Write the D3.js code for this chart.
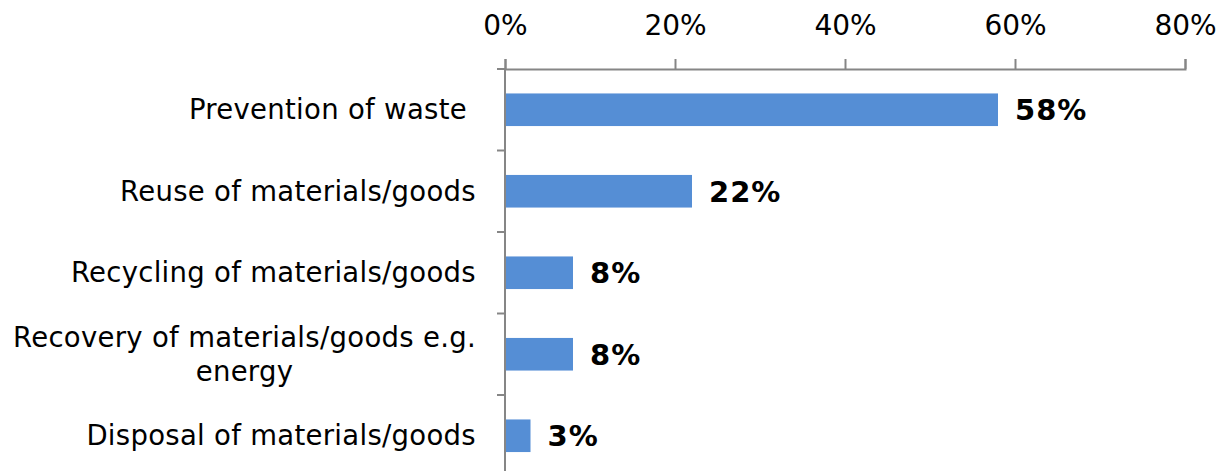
<!DOCTYPE html>
<html><head><meta charset="utf-8">
<script src="https://cdn.jsdelivr.net/npm/d3@7"></script>
<style>html,body{margin:0;padding:0;background:#fff;}svg{display:block;}</style>
</head><body>
<svg id="c" width="1226" height="471"></svg>
<script>
const categories = [
  ["Prevention of waste "],
  ["Reuse of materials/goods"],
  ["Recycling of materials/goods"],
  ["Recovery of materials/goods e.g.", "energy"],
  ["Disposal of materials/goods"]
];
const values = [58, 22, 8, 8, 3];
const tickValues = [0, 20, 40, 60, 80];

(function () {
const svg = d3.select("#c");
const mLeft = 505, mRight = 1185, mTop = 69, mBottom = 476.5;
const x = d3.scaleLinear().domain([0, 80]).range([mLeft, mRight]);
const keys = categories.map((c, i) => i);
const y = d3.scaleBand().domain(keys).range([mTop, mBottom]).paddingInner(0.6).paddingOuter(0.3);

const axisColor = "#868686";
const fam = "'DejaVu Sans', Verdana, sans-serif";
const labelSize = 27.5;
const labelSpacing = 0.3;

// bars
svg.selectAll("rect.bar").data(values).join("rect")
  .attr("class", "bar")
  .attr("x", x(0)).attr("y", (d, i) => y(i))
  .attr("width", d => x(d) - x(0)).attr("height", y.bandwidth())
  .attr("fill", "#558ED5");

// top axis
const xa = svg.append("g").attr("transform", `translate(0,${mTop})`)
  .call(d3.axisTop(x).tickValues(tickValues).tickFormat(d => d + "%").tickSize(10).tickPadding(24));
xa.select(".domain").attr("stroke", axisColor).attr("stroke-width", 2);
xa.selectAll(".tick line").attr("stroke", axisColor).attr("stroke-width", 2);
xa.selectAll(".tick text").attr("font-family", fam).attr("font-size", 28).attr("fill", "#000");

// left axis line + band boundary ticks
svg.append("line").attr("x1", mLeft).attr("x2", mLeft).attr("y1", mTop).attr("y2", 471)
  .attr("stroke", axisColor).attr("stroke-width", 2);
const bounds = keys.map(k => y(k) - y.step() * y.paddingInner() / 2);
bounds[0] = mTop;
svg.selectAll("line.yt").data(bounds).join("line")
  .attr("class", "yt")
  .attr("x1", mLeft - 8).attr("x2", mLeft).attr("y1", d => d).attr("y2", d => d)
  .attr("stroke", axisColor).attr("stroke-width", 2);

// category labels
const labelX = 476;
const lineH = 34;
categories.forEach((lines, i) => {
  const cy = y(i) + y.bandwidth() / 2;
  const t = svg.append("text")
    .attr("font-family", fam).attr("font-size", labelSize).attr("letter-spacing", labelSpacing)
    .attr("fill", "#000").style("white-space", "pre");
  if (lines.length === 1) {
    t.attr("x", labelX).attr("y", cy).attr("dy", "0.35em").attr("text-anchor", "end").text(lines[0]);
  } else {
    const widths = lines.map(l => {
      const tmp = svg.append("text").attr("font-family", fam).attr("font-size", labelSize)
        .attr("letter-spacing", labelSpacing).text(l);
      const w = tmp.node().getComputedTextLength(); tmp.remove(); return w;
    });
    const maxW = Math.max(...widths);
    const cx = labelX - maxW / 2;
    lines.forEach((l, j) => {
      t.append("tspan").attr("x", cx).attr("text-anchor", "middle")
        .attr("y", cy + (j - (lines.length - 1) / 2) * lineH).attr("dy", "0.35em").text(l);
    });
  }
});

// value labels
svg.selectAll("text.val").data(values).join("text")
  .attr("class", "val")
  .attr("x", d => x(d) + 17).attr("y", (d, i) => y(i) + y.bandwidth() / 2).attr("dy", "0.36em")
  .attr("font-family", fam).attr("font-weight", "bold").attr("font-size", 29).attr("letter-spacing", 1)
  .attr("fill", "#000").text(d => d + "%");
})();
</script>
</body></html>
